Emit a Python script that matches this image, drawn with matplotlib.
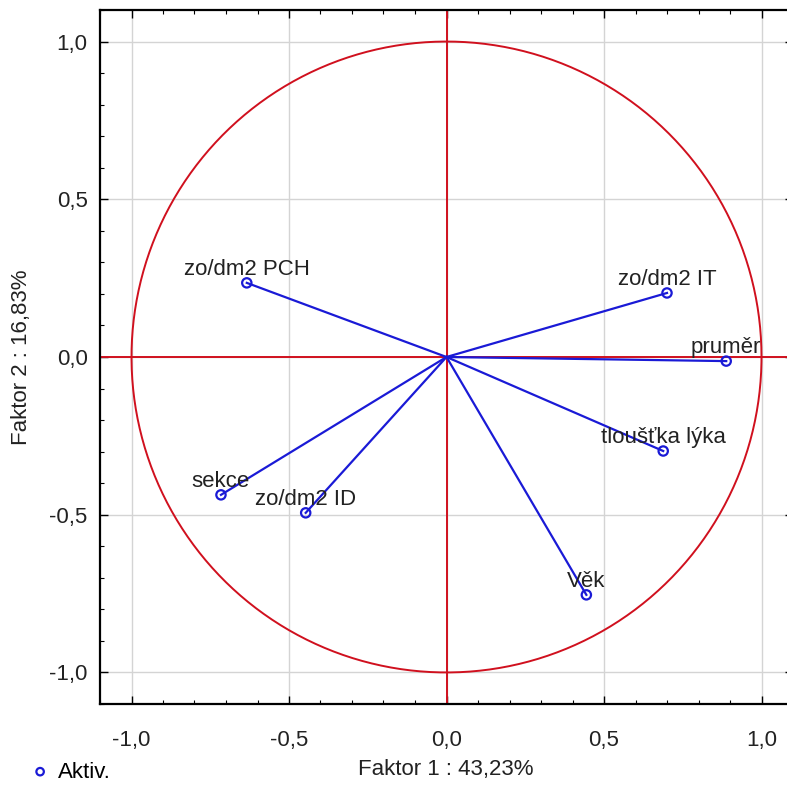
import numpy as np
import matplotlib
matplotlib.use('Agg')
import matplotlib.pyplot as plt
import matplotlib.ticker as mticker

plt.rcParams['font.family'] = ['Liberation Sans', 'DejaVu Sans']

# factor loadings
variables = ['zo/dm2 PCH', 'zo/dm2 IT', 'pruměr', 'tloušťka lýka', 'Věk', 'zo/dm2 ID', 'sekce']
faktor1 = [-0.634, 0.700, 0.888, 0.688, 0.444, -0.447, -0.716]
faktor2 = [0.235, 0.203, -0.013, -0.298, -0.754, -0.494, -0.437]

xlabel = 'Faktor 1 : 43,23%'
ylabel = 'Faktor 2 : 16,83%'
legend_label = 'Aktiv.'

red = '#d0101e'
blue = '#1a1ad6'
txt = '#222222'
fs = 16


def comma_fmt(x, pos):
    return '{:.1f}'.format(x).replace('.', ',').replace('-0,0', '0,0')


fig = plt.figure(figsize=(7.87, 7.89), dpi=100)
ax = fig.add_axes([100 / 787, 1 - 704 / 789, 693 / 787, 694 / 789])

ax.set_xlim(-1.1, 1.1)
ax.set_ylim(-1.1, 1.1)

# unit circle and axes through origin
t = np.linspace(0, 2 * np.pi, 400)
ax.plot(np.cos(t), np.sin(t), color=red, lw=1.4, zorder=2)
ax.axhline(0, color=red, lw=1.4, zorder=2)
ax.axvline(0, color=red, lw=1.4, zorder=2)

for x, y, name in zip(faktor1, faktor2, variables):
    ax.plot([0, x], [0, y], color=blue, lw=1.6, zorder=3)
    ax.annotate(name, (x, y), xytext=(0, 2), textcoords='offset points',
                ha='center', va='bottom', fontsize=fs, color=txt, zorder=5)
pts = ax.scatter(faktor1, faktor2, s=45, facecolors='none', edgecolors=blue,
                 linewidths=1.6, zorder=4, label=legend_label)

ax.xaxis.set_major_locator(mticker.MultipleLocator(0.5))
ax.yaxis.set_major_locator(mticker.MultipleLocator(0.5))
ax.xaxis.set_minor_locator(mticker.MultipleLocator(0.1))
ax.yaxis.set_minor_locator(mticker.MultipleLocator(0.1))
ax.xaxis.set_major_formatter(mticker.FuncFormatter(comma_fmt))
ax.yaxis.set_major_formatter(mticker.FuncFormatter(comma_fmt))
ax.tick_params(which='both', direction='in', top=True, right=True, colors='black')
ax.tick_params(which='major', length=6, width=1, labelsize=fs, labelcolor=txt)
ax.tick_params(which='minor', length=3, width=0.8)
ax.tick_params(axis='x', which='major', pad=19)
ax.tick_params(axis='y', which='major', pad=9)
ax.grid(True, which='major', color='#d4d4d4', lw=1, zorder=0)
ax.set_axisbelow(True)
for s in ax.spines.values():
    s.set_linewidth(1.6)

fig.text(446 / 787, 1 - 770 / 789, xlabel, ha='center', va='center', fontsize=fs, color=txt)
fig.text(22 / 787, 1 - 357 / 789, ylabel, ha='center', va='center', rotation=90,
         fontsize=fs, color=txt)
fig.legend(handles=[pts], loc='center left', bbox_to_anchor=(29 / 787, 1 - 772 / 789),
           frameon=False, fontsize=fs, handlelength=1.0, handletextpad=0.3,
           markerscale=0.8, borderpad=0, borderaxespad=0)

fig.savefig('out.png', dpi=100, facecolor='white')
